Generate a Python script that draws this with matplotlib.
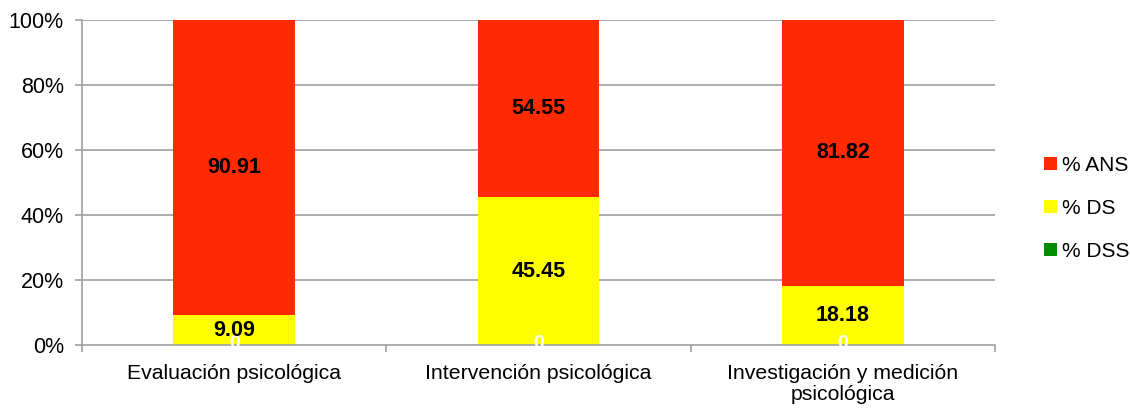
import matplotlib.pyplot as plt
import numpy as np

plt.rcParams['font.family'] = ['Liberation Sans', 'DejaVu Sans']

categorias = ['Evaluación psicológica', 'Intervención psicológica', 'Investigación y medición\npsicológica']
dss = [0, 0, 0]
ds = [9.09, 45.45, 18.18]
ans = [90.91, 54.55, 81.82]

fig = plt.figure(figsize=(11.3, 4.08), dpi=100)
ax = fig.add_axes([82/1130, 1 - 345/408, 913/1130, 325/408])

x = np.arange(len(categorias))
w = 0.4
gris = '#a0a0a0'

for yv in [20, 40, 60, 80, 100]:
    ax.axhline(yv, color=gris, lw=1.2, zorder=0)

b_dss = ax.bar(x, dss, w, color='#008a00', label='% DSS', zorder=2)
b_ds = ax.bar(x, ds, w, bottom=dss, color='#ffff00', label='% DS', zorder=2)
base = np.array(dss) + np.array(ds)
b_ans = ax.bar(x, ans, w, bottom=base, color='#ff2a00', label='% ANS', zorder=2)

for i in range(len(categorias)):
    ax.text(x[i], dss[i] / 2 + 0.5, f'{dss[i]:g}', ha='center', va='center',
            color='white', fontsize=14, fontweight='bold', zorder=3)
    ax.text(x[i], dss[i] + ds[i] / 2, f'{ds[i]:.2f}', ha='center', va='center',
            fontsize=15.5, fontweight='bold', zorder=4)
    ax.text(x[i], base[i] + ans[i] / 2, f'{ans[i]:.2f}', ha='center', va='center',
            fontsize=15.5, fontweight='bold', zorder=3)

ax.set_xlim(-0.5, 2.5)
ax.set_ylim(0, 100)
ax.set_yticks([0, 20, 40, 60, 80, 100])
ax.set_yticklabels([f'{v}%' for v in [0, 20, 40, 60, 80, 100]], fontsize=15.5)
ax.set_xticks(x)
ax.set_xticklabels(categorias, fontsize=15.3, linespacing=1.1)
ax.set_xticks([-0.5, 0.5, 1.5, 2.5], minor=True)
ax.tick_params(axis='x', which='major', length=0, pad=14)
ax.tick_params(axis='x', which='minor', length=5, color=gris, width=1.2)
ax.tick_params(axis='y', length=5, color=gris, width=1.2, pad=8)

for s in ['top', 'right']:
    ax.spines[s].set_visible(False)
for s in ['left', 'bottom']:
    ax.spines[s].set_color(gris)
    ax.spines[s].set_linewidth(1.2)

handles = [b_ans, b_ds, b_dss]
ax.legend(handles, [h.get_label() for h in handles], loc='center left',
          bbox_to_anchor=(1.045, 0.42), frameon=False, fontsize=15,
          handlelength=0.6, handleheight=0.6, handletextpad=0.25, labelspacing=1.15,
          borderaxespad=0)

fig.savefig('out.png', dpi=100)
